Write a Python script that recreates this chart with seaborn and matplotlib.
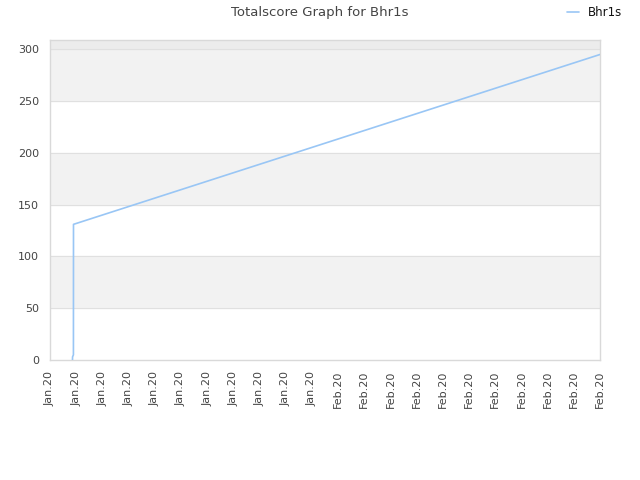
import numpy as np
import pandas as pd
import seaborn as sns
import matplotlib.pyplot as plt
import matplotlib.dates as mdates

# values
times = ['2020-01-07 03:30', '2020-01-07 03:40', '2020-01-07 05:40',
         '2020-01-07 05:50', '2020-02-26 12:00']
scores = [0, 3, 5, 131, 295]
tick_start = '2020-01-05 00:00'
tick_count = 22
tick_step_hours = 60

df = pd.DataFrame({'date': pd.to_datetime(times), 'score': scores})

sns.set_style('white')
plt.rcParams['font.family'] = ['DejaVu Sans']

fig = plt.figure(figsize=(6.4, 4.8), dpi=100)
ax = fig.add_axes([50 / 640, 120 / 480, 550 / 640, 320 / 480])

ymax = 309
for lo in range(50, 300, 100):
    ax.axhspan(lo, lo + 50, color='#f2f2f2', zorder=0)
ax.axhspan(300, ymax, color='#ececec', zorder=0)
for y in range(50, 301, 50):
    ax.axhline(y, color='#e0e0e0', lw=0.8, zorder=1)

sns.lineplot(data=df, x='date', y='score', ax=ax, color='#99c6f5',
             lw=1.2, label='Bhr1s', zorder=3)

ticks = pd.date_range(tick_start, periods=tick_count, freq=f'{tick_step_hours}h')
ax.set_xticks(ticks)
ax.xaxis.set_major_formatter(mdates.DateFormatter('%b.%y'))
ax.set_xlim(ticks[0], ticks[-1])
ax.set_ylim(0, ymax)
ax.set_yticks(range(0, 301, 50))
ax.set_xlabel('')
ax.set_ylabel('')
ax.tick_params(axis='x', rotation=90, labelsize=8, colors='#444444', length=0, pad=8)
ax.tick_params(axis='y', labelsize=8, colors='#444444', length=0, pad=8)
for s in ax.spines.values():
    s.set_color('#d9d9d9')
    s.set_linewidth(1)

fig.suptitle('Totalscore Graph for Bhr1s', x=0.5, y=0.988, fontsize=9.5, color='#444444')
ax.legend(loc='upper right', bbox_to_anchor=(1.0 + 27 / 550, 1.12), frameon=False,
          fontsize=8.5, handlelength=1.0, borderaxespad=0, labelcolor='#111111')

fig.savefig('out.png', dpi=100)
